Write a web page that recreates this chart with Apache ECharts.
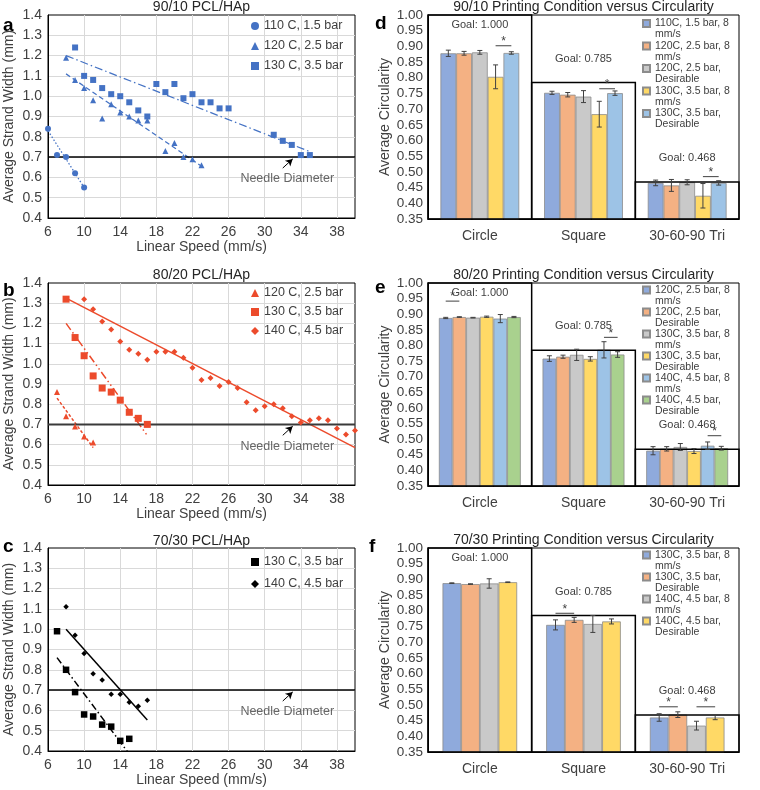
<!DOCTYPE html>
<html><head><meta charset="utf-8">
<script src="https://cdn.jsdelivr.net/npm/echarts@6/dist/echarts.min.js"></script>
<style>html,body{margin:0;padding:0;background:#fff}#c{width:760px;height:790px}</style>
</head><body><div id="c"></div>
<script>
// ---------- DATA ----------
const speedMin = 6, speedMax = 40, speedStep = 4;
const widthMin = 0.4, widthMax = 1.4, widthStep = 0.1;
const needleDiameter = 0.7;

// Panel a: 90/10 PCL/HAp
const speedA110 = [6, 7, 8, 9, 10];
const widthA110 = [0.84, 0.71, 0.70, 0.62, 0.55];
const speedA120 = [8, 9, 10, 11, 12, 13, 14, 15, 16, 17, 19, 20, 21, 22, 23];
const widthA120 = [1.19, 1.08, 1.04, 0.98, 0.89, 0.96, 0.92, 0.90, 0.88, 0.88, 0.73, 0.77, 0.70, 0.69, 0.66];
const speedA130 = [9, 10, 11, 12, 13, 14, 15, 16, 17, 18, 19, 20, 21, 22, 23, 24, 25, 26, 31, 32, 33, 34, 35];
const widthA130 = [1.24, 1.10, 1.08, 1.04, 1.01, 1.00, 0.97, 0.93, 0.90, 1.06, 1.02, 1.06, 0.99, 1.01, 0.97, 0.97, 0.94, 0.94, 0.81, 0.78, 0.76, 0.71, 0.71];
const trendA110 = [[6, 0.83], [10, 0.55]];
const trendA120 = [[8, 1.11], [23, 0.655]];
const trendA130 = [[8, 1.20], [35, 0.727]];

// Panel b: 80/20 PCL/HAp
const speedB120 = [7, 8, 9, 10, 11];
const widthB120 = [0.86, 0.74, 0.69, 0.64, 0.61];
const speedB130 = [8, 9, 10, 11, 12, 13, 14, 15, 16, 17];
const widthB130 = [1.32, 1.13, 1.04, 0.94, 0.88, 0.86, 0.82, 0.76, 0.73, 0.70];
const speedB140 = [10, 11, 12, 13, 14, 15, 16, 17, 18, 19, 20, 21, 22, 23, 24, 25, 26, 27, 28, 29, 30, 31, 32, 33, 34, 35, 36, 37, 38, 39, 40];
const widthB140 = [1.32, 1.27, 1.21, 1.17, 1.11, 1.07, 1.05, 1.02, 1.06, 1.06, 1.06, 1.03, 0.98, 0.92, 0.93, 0.89, 0.91, 0.88, 0.81, 0.77, 0.79, 0.80, 0.78, 0.74, 0.71, 0.72, 0.73, 0.72, 0.68, 0.65, 0.67];
const trendB120 = [[7, 0.83], [11, 0.585]];
const trendB130 = [[8, 1.20], [17, 0.645]];
const trendB140 = [[8, 1.325], [40, 0.585]];

// Panel c: 70/30 PCL/HAp
const speedC130 = [7, 8, 9, 10, 11, 12, 13, 14, 15];
const widthC130 = [0.99, 0.80, 0.69, 0.58, 0.57, 0.53, 0.52, 0.45, 0.46];
const speedC140 = [8, 9, 10, 11, 12, 13, 14, 15, 16, 17];
const widthC140 = [1.11, 0.97, 0.88, 0.78, 0.75, 0.68, 0.68, 0.64, 0.62, 0.65];
const trendC130 = [[7, 0.86], [15, 0.385]];
const trendC140 = [[8, 1.0], [17, 0.553]];

// Needle annotation (data coords)
const noteArrow = [[32.0, 0.646], [33.1, 0.691]];
const notePos = [32.5, 0.592];

// Circularity panels
const circMin = 0.35, circMax = 1.00, circStep = 0.05;
const shapeCats = ['Circle', 'Square', '30-60-90 Tri'];
const shapeGoals = [1.000, 0.785, 0.468];

const dNames = ['110C, 1.5 bar, 8 mm/s', '120C, 2.5 bar, 8 mm/s', '120C, 2.5 bar, Desirable', '130C, 3.5 bar, 8 mm/s', '130C, 3.5 bar, Desirable'];
const dMeans = [[0.878, 0.752, 0.465], [0.878, 0.746, 0.457], [0.881, 0.740, 0.467], [0.803, 0.684, 0.424], [0.879, 0.751, 0.465]];
const dErrs = [[0.010, 0.005, 0.009], [0.006, 0.007, 0.019], [0.006, 0.019, 0.008], [0.038, 0.041, 0.039], [0.004, 0.007, 0.007]];
const dSig = [[0, 3, 4, 0.902], [1, 3, 4, 0.765], [2, 3, 4, 0.485]];

const eNames = ['120C, 2.5 bar, 8 mm/s', '120C, 2.5 bar, Desirable', '130C, 3.5 bar, 8 mm/s', '130C, 3.5 bar, Desirable', '140C, 4.5 bar, 8 mm/s', '140C, 4.5 bar, Desirable'];
const eMeans = [[0.888, 0.758, 0.463], [0.891, 0.764, 0.469], [0.889, 0.770, 0.475], [0.892, 0.757, 0.462], [0.886, 0.786, 0.479], [0.891, 0.771, 0.471]];
const eErrs = [[0.002, 0.009, 0.013], [0.001, 0.005, 0.007], [0.001, 0.018, 0.011], [0.002, 0.007, 0.008], [0.013, 0.026, 0.012], [0.002, 0.009, 0.006]];
const eSig = [[0, 0, 1, 0.942], [1, 4, 5, 0.826], [2, 4, 5, 0.511]];

const fNames = ['130C, 3.5 bar, 8 mm/s', '130C, 3.5 bar, Desirable', '140C, 4.5 bar, 8 mm/s', '140C, 4.5 bar, Desirable'];
const fMeans = [[0.888, 0.755, 0.460], [0.885, 0.771, 0.469], [0.887, 0.758, 0.434], [0.891, 0.766, 0.460]];
const fErrs = [[0.001, 0.016, 0.012], [0.001, 0.008, 0.009], [0.015, 0.027, 0.014], [0.001, 0.008, 0.007]];
const fSig = [[1, 0, 1, 0.792], [2, 0, 1, 0.494], [2, 2, 3, 0.494]];

// ---------- STYLE ----------
const FONT = '"Liberation Sans", Arial, sans-serif';
const TXT = '#404040';
const C_BLUE = '#8FAADC', C_ORANGE = '#F4B183', C_GRAY = '#C9C9C9', C_YELLOW = '#FFD966', C_LBLUE = '#9DC3E6', C_GREEN = '#A9D18E';
// legend swatch drawn at the top of a 7x22 box (so it lines up with the first text line)
const SWATCH = 'path://M0,2L7,2L7,9L0,9Z M0,0L0,0 M0,22L0,22';

const grids = [], xAxes = [], yAxes = [], series = [], legends = [], graphics = [];

function scatterPanel(p) {
  const gi = grids.length;
  grids.push({left: p.rect[0], top: p.rect[1], width: p.rect[2], height: p.rect[3], show: true, borderColor: '#000', borderWidth: 1, containLabel: false});
  xAxes.push({type: 'value', gridIndex: gi, min: speedMin, max: speedMax, interval: speedStep,
    axisLine: {show: true, lineStyle: {color: '#000'}}, axisTick: {show: false},
    splitLine: {show: true, showMinLine: false, showMaxLine: false, lineStyle: {color: '#d9d9d9', width: 1}},
    axisLabel: {fontSize: 14, fontFamily: FONT, color: TXT, margin: 7, showMaxLabel: false, formatter: v => String(v)},
    name: 'Linear Speed (mm/s)', nameLocation: 'middle', nameGap: 22,
    nameTextStyle: {fontSize: 14, fontFamily: FONT, color: TXT}});
  yAxes.push({type: 'value', gridIndex: gi, min: widthMin, max: widthMax, interval: widthStep,
    axisLine: {show: true, lineStyle: {color: '#000'}}, axisTick: {show: false},
    splitLine: {show: true, showMinLine: false, showMaxLine: false, lineStyle: {color: '#d9d9d9', width: 1}},
    axisLabel: {fontSize: 14, fontFamily: FONT, color: TXT, margin: 6, formatter: v => v.toFixed(1)},
    name: 'Average Strand Width (mm)', nameLocation: 'middle', nameGap: 32,
    nameTextStyle: {fontSize: 14, fontFamily: FONT, color: TXT}});
  p.series.forEach(s => {
    series.push({type: 'line', xAxisIndex: gi, yAxisIndex: gi, data: s.trend, symbol: 'none', silent: true, z: 2,
      lineStyle: {color: p.color, width: s.lw, type: s.dash}});
    series.push({type: 'scatter', name: p.key + '|' + s.name, xAxisIndex: gi, yAxisIndex: gi, symbol: s.symbol, symbolSize: s.size,
      itemStyle: {color: p.color, opacity: 1}, data: s.x.map((x, k) => [x, s.y[k]]), z: 3});
  });
  series.push({type: 'line', xAxisIndex: gi, yAxisIndex: gi, data: [[speedMin, needleDiameter], [speedMax, needleDiameter]],
    symbol: 'none', silent: true, z: 2, lineStyle: {color: p.needleColor, width: p.needleWidth, type: 'solid'},
    markLine: {silent: true, symbol: ['none', 'arrow'], symbolSize: [6, 7], animation: false,
      lineStyle: {color: '#000', width: 1, type: 'solid'}, label: {show: false}, emphasis: {disabled: true},
      data: [[{coord: noteArrow[0]}, {coord: noteArrow[1]}]]}});
  series.push({type: 'scatter', xAxisIndex: gi, yAxisIndex: gi, data: [notePos], symbolSize: 1, silent: true, z: 4,
    itemStyle: {color: 'rgba(0,0,0,0)'},
    label: {show: true, position: 'inside', formatter: 'Needle Diameter', fontSize: 12.5, fontFamily: FONT, color: TXT}});
  legends.push({orient: 'vertical', left: p.legend[0], top: p.legend[1], padding: 0, itemGap: p.legend[2],
    itemWidth: 8, itemHeight: 8, selectedMode: false,
    data: p.series.map(s => ({name: p.key + '|' + s.name, icon: s.symbol})),
    formatter: n => n.split('|')[1],
    textStyle: {fontSize: 12.5, lineHeight: 15, fontFamily: FONT, color: TXT}});
  graphics.push({type: 'text', x: p.rect[0] + p.rect[2] / 2, y: p.titleY, silent: true,
    style: {text: p.title, font: '14px ' + FONT, fill: '#262626', align: 'center', verticalAlign: 'middle'}});
  graphics.push({type: 'text', x: p.letter[0], y: p.letter[1], silent: true,
    style: {text: p.key, font: 'bold 19px ' + FONT, fill: '#000', align: 'left', verticalAlign: 'alphabetic'}});
}

function wrapLegend(s) {
  return s.replace(', 8 mm/s', ', 8\nmm/s').replace(', Desirable', ',\nDesirable');
}

function barPanel(p) {
  const gi = grids.length;
  const n = p.names.length, gap = p.gap;
  grids.push({left: p.rect[0], top: p.rect[1], width: p.rect[2], height: p.rect[3], show: true, borderColor: '#000', borderWidth: 1, containLabel: false});
  xAxes.push({type: 'category', gridIndex: gi, data: shapeCats, axisTick: {show: false},
    axisLine: {show: true, lineStyle: {color: '#000'}}, splitLine: {show: false},
    axisLabel: {fontSize: 14, fontFamily: FONT, color: TXT, margin: 10}});
  yAxes.push({type: 'value', gridIndex: gi, min: circMin, max: circMax, interval: circStep,
    axisLine: {show: true, lineStyle: {color: '#000'}}, axisTick: {show: false}, splitLine: {show: false},
    axisLabel: {fontSize: 13.5, fontFamily: FONT, color: TXT, margin: 5, formatter: v => v.toFixed(2)},
    name: 'Average Circularity', nameLocation: 'middle', nameGap: 36,
    nameTextStyle: {fontSize: 14, fontFamily: FONT, color: TXT}});
  p.names.forEach((nm, k) => {
    series.push({type: 'bar', name: p.key + '|' + nm, xAxisIndex: gi, yAxisIndex: gi, data: p.means[k],
      barGap: '0%', barCategoryGap: (gap * 100) + '%', z: 2,
      itemStyle: {color: p.colors[k], borderColor: '#8c8c8c', borderWidth: 0.8}});
  });
  const barX = (api, c, k, v) => {
    const band = api.size([1, 0])[0];
    const inner = band * (1 - gap);
    return api.coord([c, v])[0] - inner / 2 + (k + 0.5) * inner / n;
  };
  // goal boxes
  series.push({type: 'custom', xAxisIndex: gi, yAxisIndex: gi, data: shapeGoals.map((g, c) => [c, g]),
    encode: {x: 0, y: 1}, clip: false, silent: true, z: 4,
    renderItem: (params, api) => {
      const c = api.value(0), g = api.value(1);
      const band = api.size([1, 0])[0];
      const top = api.coord([c, g]), bot = api.coord([c, circMin]);
      const ly = g >= circMax ? top[1] + 10 : top[1] - 24;
      return {type: 'group', children: [
        {type: 'rect', shape: {x: top[0] - band / 2, y: top[1], width: band, height: bot[1] - top[1]},
          style: {fill: 'none', stroke: '#000', lineWidth: 1.5}},
        {type: 'text', style: {text: 'Goal: ' + g.toFixed(3), x: top[0], y: ly, fill: TXT,
          font: '11px ' + FONT, align: 'center', verticalAlign: 'middle'}}
      ]};
    }});
  // error bars
  const errData = [];
  p.means.forEach((row, k) => row.forEach((m, c) => errData.push([c, k, m, p.errs[k][c]])));
  series.push({type: 'custom', xAxisIndex: gi, yAxisIndex: gi, data: errData, encode: {x: 0, y: 2},
    clip: false, silent: true, z: 5,
    renderItem: (params, api) => {
      const c = api.value(0), k = api.value(1), m = api.value(2), e = api.value(3);
      const cx = barX(api, c, k, m);
      const yt = api.coord([c, m + e])[1], yb = api.coord([c, m - e])[1];
      const cap = 2.5;
      const st = () => ({stroke: '#404040', lineWidth: 1});
      return {type: 'group', children: [
        {type: 'line', shape: {x1: cx, y1: yt, x2: cx, y2: yb}, style: st()},
        {type: 'line', shape: {x1: cx - cap, y1: yt, x2: cx + cap, y2: yt}, style: st()},
        {type: 'line', shape: {x1: cx - cap, y1: yb, x2: cx + cap, y2: yb}, style: st()}
      ]};
    }});
  // significance brackets
  series.push({type: 'custom', xAxisIndex: gi, yAxisIndex: gi, data: p.sig, encode: {x: 0, y: 3},
    clip: false, silent: true, z: 5,
    renderItem: (params, api) => {
      const c = api.value(0), k1 = api.value(1), k2 = api.value(2), v = api.value(3);
      const x1 = barX(api, c, k1, v), x2 = barX(api, c, k2, v);
      const y = api.coord([c, v])[1];
      return {type: 'group', children: [
        {type: 'line', shape: {x1: x1, y1: y, x2: x2, y2: y}, style: {stroke: '#404040', lineWidth: 1}},
        {type: 'text', style: {text: '*', x: (x1 + x2) / 2, y: y - 4, fill: '#404040',
          font: '12px ' + FONT, align: 'center', verticalAlign: 'middle'}}
      ]};
    }});
  legends.push({orient: 'vertical', left: p.legend[0], top: p.legend[1], padding: 0, itemGap: p.legend[2],
    itemWidth: 7, itemHeight: 22, icon: SWATCH, selectedMode: false,
    data: p.names.map(nm => p.key + '|' + nm),
    formatter: nm => wrapLegend(nm.split('|')[1]),
    textStyle: {fontSize: 10.5, lineHeight: 11, fontFamily: FONT, color: TXT}});
  graphics.push({type: 'text', x: p.rect[0] + p.rect[2] / 2, y: p.titleY, silent: true,
    style: {text: p.title, font: '14px ' + FONT, fill: '#262626', align: 'center', verticalAlign: 'middle'}});
  graphics.push({type: 'text', x: p.letter[0], y: p.letter[1], silent: true,
    style: {text: p.key, font: 'bold 19px ' + FONT, fill: '#000', align: 'left', verticalAlign: 'alphabetic'}});
}

scatterPanel({key: 'a', rect: [48, 15, 307, 203], title: '90/10 PCL/HAp', titleY: 7, letter: [3, 16],
  color: '#4472C4', needleColor: '#000', needleWidth: 1.5, legend: [251, 18.5, 5],
  series: [
    {name: '110 C, 1.5 bar', x: speedA110, y: widthA110, symbol: 'circle', size: 6, trend: trendA110, dash: [1.5, 2], lw: 1.25},
    {name: '120 C, 2.5 bar', x: speedA120, y: widthA120, symbol: 'triangle', size: 6, trend: trendA120, dash: [5, 3], lw: 1.25},
    {name: '130 C, 3.5 bar', x: speedA130, y: widthA130, symbol: 'rect', size: 6, trend: trendA130, dash: [8, 3, 1.5, 3], lw: 1.25}
  ]});
scatterPanel({key: 'b', rect: [48, 283, 307, 202], title: '80/20 PCL/HAp', titleY: 275, letter: [3, 281],
  color: '#EC4B2C', needleColor: '#3a3a3a', needleWidth: 2, legend: [251, 285.5, 4],
  series: [
    {name: '120 C, 2.5 bar', x: speedB120, y: widthB120, symbol: 'triangle', size: 6, trend: trendB120, dash: [3, 2], lw: 1.5},
    {name: '130 C, 3.5 bar', x: speedB130, y: widthB130, symbol: 'rect', size: 7, trend: trendB130, dash: [8, 3, 1.5, 3, 1.5, 3], lw: 1.5},
    {name: '140 C, 4.5 bar', x: speedB140, y: widthB140, symbol: 'diamond', size: 6, trend: trendB140, dash: 'solid', lw: 1.5}
  ]});
scatterPanel({key: 'c', rect: [48, 548, 307, 203], title: '70/30 PCL/HAp', titleY: 541, letter: [3, 537],
  color: '#000', needleColor: '#000', needleWidth: 1.5, legend: [251, 554.5, 7],
  series: [
    {name: '130 C, 3.5 bar', x: speedC130, y: widthC130, symbol: 'rect', size: 6.5, trend: trendC130, dash: [7, 3, 1.5, 3], lw: 1.5},
    {name: '140 C, 4.5 bar', x: speedC140, y: widthC140, symbol: 'diamond', size: 5.5, trend: trendC140, dash: 'solid', lw: 1.5}
  ]});

barPanel({key: 'd', rect: [428, 15, 311, 204], title: '90/10 Printing Condition versus Circularity', titleY: 7, letter: [375, 14],
  names: dNames, means: dMeans, errs: dErrs, sig: dSig, gap: 0.24,
  colors: [C_BLUE, C_ORANGE, C_GRAY, C_YELLOW, C_LBLUE], legend: [642, 17, -1.5]});
barPanel({key: 'e', rect: [428, 283, 311, 203], title: '80/20 Printing Condition versus Circularity', titleY: 275, letter: [375, 278],
  names: eNames, means: eMeans, errs: eErrs, sig: eSig, gap: 0.21,
  colors: [C_BLUE, C_ORANGE, C_GRAY, C_YELLOW, C_LBLUE, C_GREEN], legend: [642, 283.5, -2]});
barPanel({key: 'f', rect: [428, 548, 311, 204], title: '70/30 Printing Condition versus Circularity', titleY: 540, letter: [369, 537],
  names: fNames, means: fMeans, errs: fErrs, sig: fSig, gap: 0.28,
  colors: [C_BLUE, C_ORANGE, C_GRAY, C_YELLOW], legend: [642, 548.5, -2]});

const chart = echarts.init(document.getElementById('c'), null, {renderer: 'canvas'});
chart.setOption({
  animation: false,
  backgroundColor: '#fff',
  textStyle: {fontFamily: FONT},
  grid: grids, xAxis: xAxes, yAxis: yAxes, legend: legends, series: series, graphic: graphics
});
</script></body></html>
